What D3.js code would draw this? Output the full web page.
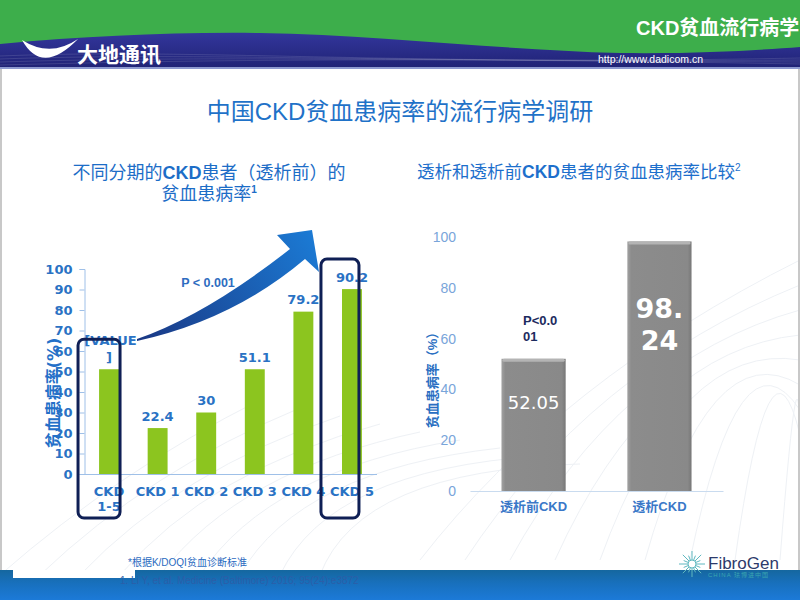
<!DOCTYPE html>
<html><head><meta charset="utf-8">
<script src="https://cdn.jsdelivr.net/npm/d3@7"></script>
<style>body{margin:0;background:#fff}svg{display:block}</style>
</head><body>
<svg id="c" width="800" height="600"></svg>
<script>
// ---- data ----
const stageCats = ["CKD 1-5", "CKD 1", "CKD 2", "CKD 3", "CKD 4", "CKD 5"];
const stageValues = [51.1, 22.4, 30, 51.1, 79.2, 90.2];
const stageLabels = ["[VALUE\n]", "22.4", "30", "51.1", "79.2", "90.2"];
const stageTicks = [0, 10, 20, 30, 40, 50, 60, 70, 80, 90, 100];
const highlightCats = ["CKD 1-5", "CKD 5"];
const dialCats = ["透析前CKD", "透析CKD"];
const dialValues = [52.05, 98.24];
const dialLabels = ["52.05", "98.\n24"];
const dialTicks = [0, 20, 40, 60, 80, 100];

const FONT = '"Liberation Sans","Noto Sans CJK SC",sans-serif';
const DV = '"DejaVu Sans","Noto Sans CJK SC",sans-serif';
const svg = d3.select("#c");
const defs = svg.append("defs");

// ---- background / slide frame ----
svg.append("rect").attr("width", 800).attr("height", 600).attr("fill", "#fff");
const deco = svg.append("g").attr("fill", "none").attr("stroke", "#eef1f5").attr("stroke-width", 1);
for (let i = 0; i < 9; i++) {
  deco.append("path").attr("d", `M${420 + i * 45},560 Q${560 + i * 30},${380 - i * 10} ${800},${260 + i * 25}`);
  deco.append("path").attr("d", `M${i * 40},575 Q${120 + i * 30},${470} ${260 + i * 40},${400 + i * 8}`);
}
svg.append("line").attr("x1", 1).attr("x2", 1).attr("y1", 69).attr("y2", 571).attr("stroke", "#c8c8c8").attr("stroke-width", 2);
svg.append("line").attr("x1", 799).attr("x2", 799).attr("y1", 69).attr("y2", 571).attr("stroke", "#c8c8c8").attr("stroke-width", 2);

// ---- header ----
const navyG = defs.append("linearGradient").attr("id", "navy").attr("x1", 0).attr("y1", 0).attr("x2", 0).attr("y2", 1);
navyG.append("stop").attr("offset", "0%").attr("stop-color", "#33369c");
navyG.append("stop").attr("offset", "100%").attr("stop-color", "#1f2274");
svg.append("rect").attr("x", 0).attr("y", 0).attr("width", 800).attr("height", 69).attr("fill", "#3dae4b");
svg.append("path").attr("d", "M0,44 C90,36 170,32 260,33 C380,35 500,50 620,53 C700,54 760,50 800,47 L800,69 L0,69 Z").attr("fill", "url(#navy)");
const wl = svg.append("g").attr("fill", "none").attr("stroke", "rgba(255,255,255,0.12)");
for (let i = 0; i < 4; i++) {
  wl.append("path").attr("d", `M0,${56 + i * 3} C200,${48 + i * 4} 400,${66 - i * 3} 800,${58 + i * 2}`);
}
svg.append("rect").attr("x", 0).attr("y", 67).attr("width", 800).attr("height", 2).attr("fill", "#8e9ad0");
svg.append("path").attr("d", "M22,40 Q42,76 78,39 Q50,58 22,40 Z").attr("fill", "#fff");
svg.append("text").attr("x", 77).attr("y", 62).attr("fill", "#fff").attr("font-family", FONT)
  .attr("font-weight", "bold").attr("font-size", 21).text("大地通讯");
svg.append("text").attr("x", 636).attr("y", 35).attr("fill", "#fff").attr("font-family", FONT)
  .attr("font-weight", "bold").attr("font-size", 20).text("CKD贫血流行病学");
svg.append("text").attr("x", 598).attr("y", 63).attr("fill", "#fff").attr("font-family", FONT)
  .attr("font-size", 10.5).text("http://www.dadicom.cn");

// ---- main title ----
svg.append("text").attr("x", 400).attr("y", 120).attr("text-anchor", "middle").attr("fill", "#1f72c8")
  .attr("font-family", FONT).attr("font-size", 24).text("中国CKD贫血患病率的流行病学调研");

// ---- left titles ----
const lt = svg.append("text").attr("x", 209).attr("y", 179).attr("text-anchor", "middle").attr("fill", "#1c6dc7")
  .attr("font-family", FONT).attr("font-size", 18);
lt.append("tspan").text("不同分期的");
lt.append("tspan").attr("font-weight", "bold").text("CKD");
lt.append("tspan").text("患者（透析前）的");
const lt2 = svg.append("text").attr("x", 209).attr("y", 200).attr("text-anchor", "middle").attr("fill", "#1c6dc7")
  .attr("font-family", FONT).attr("font-size", 18);
lt2.append("tspan").text("贫血患病率");
lt2.append("tspan").attr("font-size", 10).attr("font-weight", "bold").attr("dy", -7).text("1");

// ---- right title ----
const rt = svg.append("text").attr("x", 417).attr("y", 178).attr("fill", "#1d6fcc")
  .attr("font-family", FONT).attr("font-size", 17.5);
rt.append("tspan").text("透析和透析前");
rt.append("tspan").attr("font-weight", "bold").text("CKD");
rt.append("tspan").text("患者的贫血患病率比较");
rt.append("tspan").attr("font-size", 10).attr("dy", -7).text("2");

// ---- left chart ----
const xL = d3.scaleBand().domain(stageCats).range([84.5, 376.5]).paddingInner(0.59).paddingOuter(0.3);
const yL = d3.scaleLinear().domain([0, 100]).range([474, 269]);
const blue = "#2a72c4";
const gL = svg.append("g");
const yAx = gL.append("g").attr("transform", "translate(84.5,0)")
  .call(d3.axisLeft(yL).tickValues(stageTicks).tickSize(5).tickPadding(7));
yAx.select(".domain").attr("stroke", "#9fc0e8");
yAx.selectAll(".tick line").attr("stroke", "#9fc0e8");
yAx.selectAll("text").attr("fill", blue).attr("font-family", DV).attr("font-weight", "bold").attr("font-size", 13);

gL.selectAll("rect.bar").data(stageCats).join("rect").attr("class", "bar")
  .attr("x", d => xL(d)).attr("width", xL.bandwidth())
  .attr("y", (d, i) => yL(stageValues[i])).attr("height", (d, i) => yL(0) - yL(stageValues[i]))
  .attr("fill", "#8cc51f");

const xAx = gL.append("g").attr("transform", `translate(0,${yL(0)})`)
  .call(d3.axisBottom(xL).tickSize(0).tickFormat(""));
xAx.select(".domain").attr("stroke", "#9fc0e8");

stageCats.forEach((c, i) => {
  const t = gL.append("text").attr("x", xL(c) + xL.bandwidth() / 2).attr("y", 496).attr("text-anchor", "middle")
    .attr("fill", blue).attr("font-family", DV).attr("font-weight", "bold").attr("font-size", 13).text(c);
  if (t.node().getComputedTextLength() > xL.step()) {
    const k = c.lastIndexOf(" ");
    t.text(null);
    t.append("tspan").attr("x", xL(c) + xL.bandwidth() / 2).text(c.slice(0, k));
    t.append("tspan").attr("x", xL(c) + xL.bandwidth() / 2).attr("dy", 15).text(c.slice(k + 1));
  }
});

stageLabels.forEach((lab, i) => {
  const lines = lab.split("\n");
  const cx = xL(stageCats[i]) + xL.bandwidth() / 2;
  const base = yL(stageValues[i]) - 7.5;
  const t = gL.append("text").attr("text-anchor", "middle").attr("fill", blue)
    .attr("font-family", DV).attr("font-weight", "bold").attr("font-size", 13);
  lines.forEach((ln, j) => {
    t.append("tspan").attr("x", cx + (lines.length > 1 && j === 0 ? 1.5 : 0))
      .attr("y", base - (lines.length - 1 - j) * 17).text(ln);
  });
});

gL.append("text").attr("transform", "translate(59,393) rotate(-90)").attr("text-anchor", "middle")
  .attr("fill", "#2470c8").attr("font-family", DV).attr("font-weight", "bold").attr("font-size", 16)
  .text("贫血患病率(%)");

// highlight boxes
highlightCats.forEach(c => {
  const i = stageCats.indexOf(c);
  const cx = xL(c) + xL.bandwidth() / 2;
  const top = yL(stageValues[i]) - 30;
  gL.append("rect").attr("x", cx - 31).attr("y", top).attr("width", i === 0 ? 42 : 38)
    .attr("height", 518 - top).attr("rx", 6).attr("fill", "none").attr("stroke", "#0f1f55").attr("stroke-width", 3);
});

// curved arrow
const arrG = defs.append("linearGradient").attr("id", "arr").attr("gradientUnits", "userSpaceOnUse")
  .attr("x1", 137).attr("y1", 340).attr("x2", 312).attr("y2", 232);
arrG.append("stop").attr("offset", "0%").attr("stop-color", "#1a3884");
arrG.append("stop").attr("offset", "100%").attr("stop-color", "#1b7ad4");
gL.append("path").attr("d", "M137,339 Q206,315 290,249 L277,235 L312,230 L319,272 L305,259 Q233,320 137,341 Z")
  .attr("fill", "url(#arr)");
gL.append("text").attr("x", 208).attr("y", 287).attr("text-anchor", "middle").attr("fill", "#2e6cc0")
  .attr("font-family", FONT).attr("font-weight", "bold").attr("font-size", 12.5).text("P < 0.001");

// ---- right chart ----
const xR = d3.scaleBand().domain(dialCats).range([470, 723]).paddingInner(0.49).paddingOuter(0.25);
const yR = d3.scaleLinear().domain([0, 100]).range([491, 237]);
const gR = svg.append("g");
const yAxR = gR.append("g").attr("transform", "translate(470,0)")
  .call(d3.axisLeft(yR).tickValues(dialTicks).tickSize(0).tickPadding(14));
yAxR.select(".domain").remove();
yAxR.selectAll("text").attr("fill", "#79a5da").attr("font-family", FONT).attr("font-size", 14);

const grayG = defs.append("linearGradient").attr("id", "gray").attr("x1", 0).attr("y1", 0).attr("x2", 1).attr("y2", 0);
grayG.append("stop").attr("offset", "0%").attr("stop-color", "#a2a2a2");
grayG.append("stop").attr("offset", "6%").attr("stop-color", "#8c8c8c");
grayG.append("stop").attr("offset", "94%").attr("stop-color", "#898989");
grayG.append("stop").attr("offset", "100%").attr("stop-color", "#777");
gR.selectAll("rect.bar").data(dialCats).join("rect").attr("class", "bar")
  .attr("x", d => xR(d)).attr("width", xR.bandwidth())
  .attr("y", (d, i) => yR(dialValues[i])).attr("height", (d, i) => yR(0) - yR(dialValues[i]))
  .attr("fill", "url(#gray)");
gR.selectAll("rect.bev").data(dialCats).join("rect").attr("class", "bev")
  .attr("x", d => xR(d) + 1).attr("width", xR.bandwidth() - 2)
  .attr("y", (d, i) => yR(dialValues[i])).attr("height", 3).attr("rx", 1.5)
  .attr("fill", "#b4b4b4");

const xAxR = gR.append("g").attr("transform", `translate(0,${yR(0)})`)
  .call(d3.axisBottom(xR).tickSize(0).tickPadding(11));
xAxR.select(".domain").attr("stroke", "#c9dbef");
xAxR.selectAll("text").attr("fill", "#3a78c8").attr("font-family", FONT).attr("font-weight", "bold").attr("font-size", 13);

dialLabels.forEach((lab, i) => {
  const lines = lab.split("\n");
  const multi = lines.length > 1;
  const fs = multi ? 27 : 18;
  const lh = multi ? 32 : 20;
  const cx = xR(dialCats[i]) + xR.bandwidth() / 2;
  const cy = yR(dialValues[i] * 0.67);
  const t = gR.append("text").attr("text-anchor", "middle").attr("fill", "#fff")
    .attr("font-family", DV).attr("font-weight", multi ? "bold" : "normal").attr("font-size", fs);
  lines.forEach((ln, j) => {
    t.append("tspan").attr("x", cx).attr("y", cy + (j - (lines.length - 1) / 2) * lh + fs * 0.36).text(ln);
  });
});

const pt = gR.append("text").attr("fill", "#1c2b5e").attr("font-family", FONT).attr("font-weight", "bold").attr("font-size", 13);
pt.append("tspan").attr("x", 523).attr("y", 325).text("P<0.0");
pt.append("tspan").attr("x", 523).attr("y", 341).text("01");

gR.append("text").attr("transform", "translate(437,377) rotate(-90)").attr("text-anchor", "middle")
  .attr("fill", "#2a6fc2").attr("font-family", FONT).attr("font-weight", "bold").attr("font-size", 13)
  .text("贫血患病率（%）");

// ---- footer ----
const botG = defs.append("linearGradient").attr("id", "bot").attr("x1", 0).attr("y1", 0).attr("x2", 0).attr("y2", 1);
botG.append("stop").attr("offset", "0%").attr("stop-color", "#15679f");
botG.append("stop").attr("offset", "45%").attr("stop-color", "#1870bd");
botG.append("stop").attr("offset", "100%").attr("stop-color", "#1c7ad8");
svg.append("rect").attr("x", 0).attr("y", 570).attr("width", 800).attr("height", 30).attr("fill", "url(#bot)");
svg.append("rect").attr("x", 13).attr("y", 570).attr("width", 122).attr("height", 8).attr("fill", "#fff");
svg.append("text").attr("x", 128).attr("y", 566).attr("fill", "#2a6ac0").attr("font-family", FONT)
  .attr("font-size", 10).text("*根据K/DOQI贫血诊断标准");
svg.append("text").attr("x", 120).attr("y", 584).attr("fill", "#2b5ea8").attr("font-family", FONT)
  .attr("font-size", 10).text("1. Li Y, et al. Medicine (Baltimore) 2016; 95(24):e3872");

// FibroGen logo
const fg = svg.append("g").attr("transform", "translate(692,564)").attr("stroke", "#5fb8c0").attr("stroke-width", 1);
for (let a = 0; a < 360; a += 22.5) {
  const r = a % 45 === 0 ? 13 : 9;
  const rad = a * Math.PI / 180;
  fg.append("line").attr("x1", 4 * Math.cos(rad)).attr("y1", 4 * Math.sin(rad))
    .attr("x2", r * Math.cos(rad)).attr("y2", r * Math.sin(rad));
}
fg.append("circle").attr("r", 4).attr("fill", "#fff").attr("stroke", "#5fb8c0");
svg.append("text").attr("x", 708).attr("y", 569).attr("fill", "#2d3a6b").attr("font-family", FONT)
  .attr("font-size", 17).text("FibroGen");
svg.append("text").attr("x", 708).attr("y", 577).attr("fill", "#3aa6b0").attr("font-family", FONT)
  .attr("font-size", 6).attr("letter-spacing", 1).text("CHINA 珐博进中国");
</script>
</body></html>
